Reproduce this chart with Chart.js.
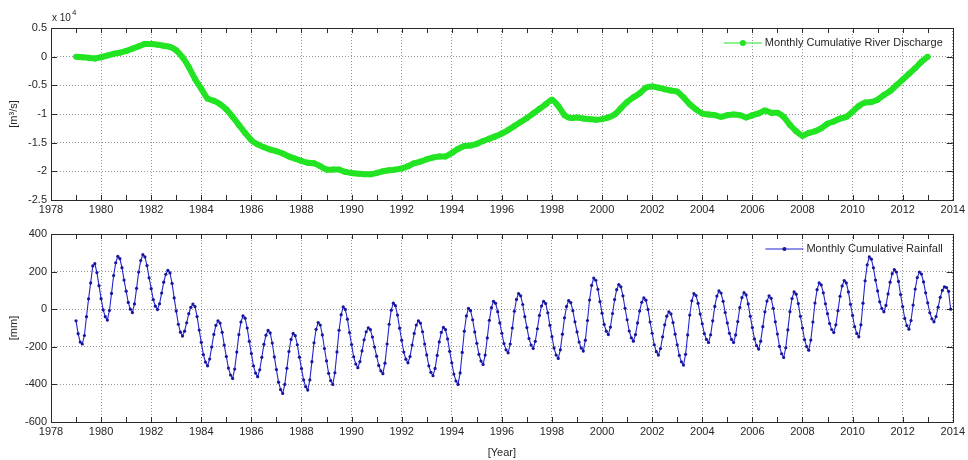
<!DOCTYPE html>
<html>
<head>
<meta charset="utf-8">
<title>Cumulative discharge and rainfall</title>
<script src="https://cdn.jsdelivr.net/npm/chart.js@4.4.1/dist/chart.umd.min.js"></script>
<style>
  html, body { margin: 0; padding: 0; background: #fff; }
  #wrap { position: relative; width: 968px; height: 460px; }
  canvas { position: absolute; left: 0; }
</style>
</head>
<body>
<div id="wrap">
  <canvas id="dischargeChart" width="968" height="220" style="top:0"></canvas>
  <canvas id="rainfallChart" width="968" height="240" style="top:220px"></canvas>
</div>
<script>
// --- datos ---
const yearTicksMin = 1978;
const yearTicksMax = 2014;

// descarga acumulada (x 10^4 m3/s), un valor por trimestre desde 1979.0
const dischargeStart = 1979;
const dischargeStep = 0.25;
const dischargeE4 = [
  0.00, -0.01, -0.02, -0.03,     // 1979
  -0.01, 0.02, 0.05, 0.07,       // 1980
  0.10, 0.14, 0.18, 0.22,        // 1981
  0.22, 0.21, 0.19, 0.17,        // 1982
  0.11, -0.01, -0.18, -0.39,     // 1983
  -0.56, -0.73, -0.77, -0.83,    // 1984
  -0.92, -1.05, -1.19, -1.33,    // 1985
  -1.46, -1.53, -1.58, -1.62,    // 1986
  -1.65, -1.69, -1.74, -1.78,    // 1987
  -1.82, -1.85, -1.86, -1.91,    // 1988
  -1.97, -1.97, -1.97, -2.01,    // 1989
  -2.03, -2.04, -2.05, -2.05,    // 1990
  -2.03, -2.00, -1.98, -1.97,    // 1991
  -1.95, -1.91, -1.86, -1.83,    // 1992
  -1.79, -1.76, -1.74, -1.74,    // 1993
  -1.68, -1.61, -1.56, -1.55,    // 1994
  -1.52, -1.47, -1.43, -1.39,    // 1995
  -1.34, -1.28, -1.21, -1.14,    // 1996
  -1.07, -0.99, -0.91, -0.83,    // 1997
  -0.75, -0.86, -1.02, -1.07,    // 1998
  -1.06, -1.08, -1.09, -1.10,    // 1999
  -1.09, -1.06, -1.01, -0.90,    // 2000
  -0.79, -0.71, -0.64, -0.54,    // 2001
  -0.52, -0.54, -0.57, -0.59,    // 2002
  -0.61, -0.71, -0.83, -0.92,    // 2003
  -0.99, -1.01, -1.02, -1.05,    // 2004
  -1.02, -1.01, -1.02, -1.06,    // 2005
  -1.02, -0.99, -0.94, -0.98,    // 2006
  -0.98, -1.05, -1.19, -1.30,    // 2007
  -1.38, -1.33, -1.30, -1.25,    // 2008
  -1.17, -1.13, -1.08, -1.05,    // 2009
  -0.96, -0.86, -0.80, -0.79,    // 2010
  -0.75, -0.67, -0.60, -0.50,    // 2011
  -0.40, -0.30, -0.20, -0.09,    // 2012
  0.00                            // 2013
];

// lluvia acumulada (mm), un valor por mes desde enero de 1979
const rainfallStart = 1979;
const rainfallMm = [
  -62, -130, -175, -185, -140, -40, 55, 140, 230, 242, 195, 125,           // 1979
  56, -4, -40, -58, -7, 84, 179, 247, 281, 269, 221, 155,                  // 1980
  96, 36, 0, -18, 28, 111, 198, 259, 290, 278, 232, 167,                   // 1981
  109, 51, 16, -2, 29, 86, 144, 186, 207, 193, 137, 60,                    // 1982
  -10, -80, -122, -143, -117, -72, -24, 10, 27, 14, -39, -111,             // 1983
  -176, -242, -281, -301, -265, -201, -134, -86, -62, -74, -123, -191,     // 1984
  -252, -313, -350, -368, -318, -228, -135, -68, -35, -48, -100, -171,     // 1985
  -236, -301, -340, -359, -322, -256, -187, -138, -113, -126, -180, -254,  // 1986
  -321, -388, -428, -448, -400, -314, -225, -161, -129, -141, -189, -255,  // 1987
  -316, -376, -412, -430, -376, -279, -179, -107, -71, -84, -137, -209,    // 1988
  -275, -341, -380, -400, -338, -227, -112, -29, 12, -1, -53, -124,        // 1989
  -188, -253, -292, -311, -279, -222, -163, -120, -99, -109, -148, -201,   // 1990
  -250, -299, -328, -343, -287, -185, -80, -5, 32, 19, -31, -101,          // 1991
  -165, -228, -266, -285, -252, -191, -129, -84, -62, -74, -120, -185,     // 1992
  -243, -301, -336, -354, -315, -246, -174, -123, -97, -109, -158, -224,   // 1993
  -285, -345, -382, -400, -339, -230, -117, -36, 4, -8, -56, -121,         // 1994
  -181, -240, -276, -294, -244, -153, -59, 8, 42, 31, -13, -73,            // 1995
  -128, -183, -216, -232, -185, -100, -11, 52, 83, 71, 25, -40,            // 1996
  -98, -156, -191, -209, -171, -104, -33, 17, 42, 30, -19, -86,            // 1997
  -146, -207, -244, -262, -216, -133, -46, 15, 46, 35, -8, -67,            // 1998
  -121, -175, -207, -223, -165, -60, 49, 127, 166, 154, 106, 40,           // 1999
  -21, -81, -117, -135, -95, -23, 51, 104, 131, 119, 71, 5,                // 2000
  -56, -116, -152, -170, -135, -73, -9, 37, 60, 48, -1, -68,               // 2001
  -128, -189, -226, -244, -209, -147, -83, -37, -14, -25, -71, -133,       // 2002
  -189, -246, -280, -297, -240, -137, -31, 45, 83, 73, 31, -26,            // 2003
  -78, -130, -161, -177, -136, -62, 15, 70, 97, 86, 42, -18,               // 2004
  -73, -128, -161, -177, -137, -66, 9, 62, 88, 76, 28, -38,                // 2005
  -98, -158, -194, -212, -170, -93, -14, 43, 71, 58, 5, -67,               // 2006
  -132, -198, -237, -257, -205, -110, -13, 57, 92, 80, 30, -38,            // 2007
  -100, -162, -199, -218, -164, -68, 33, 104, 140, 129, 87, 29,            // 2008
  -24, -76, -108, -124, -83, -8, 69, 124, 152, 140, 92, 26,                // 2009
  -33, -93, -129, -147, -83, 32, 151, 236, 278, 266, 220, 155,             // 2010
  97, 39, 4, -14, 20, 81, 144, 189, 211, 198, 148, 78,                     // 2011
  14, -49, -87, -106, -60, 22, 107, 168, 198, 187, 145, 87,                // 2012
  34, -19, -51, -67, -39, 11, 63, 100, 119, 115, 95, 0                     // 2013
];

const dischargeLabel = 'Monthly Cumulative River Discharge';
const rainfallLabel = 'Monthly Cumulative Rainfall';

// --- estilo general tipo MATLAB ---
Chart.defaults.font.family = '"Liberation Sans", Arial, Helvetica, sans-serif';
Chart.defaults.font.size = 11;
Chart.defaults.color = '#262626';

const GREEN = '#22e422';
const BLUE = '#2323cf';
const TEXT = '#262626';

// Marco, marcas hacia dentro, leyenda y exponente
const marcoMatlab = {
  id: 'marcoMatlab',
  afterDraw(chart, args, opts) {
    const { ctx, chartArea: a, scales: { x, y } } = chart;
    ctx.save();
    ctx.strokeStyle = '#2a2a2a';
    ctx.lineWidth = 1;
    ctx.strokeRect(Math.round(a.left) + 0.5, Math.round(a.top) + 0.5,
                   Math.round(a.right - a.left), Math.round(a.bottom - a.top));

    ctx.beginPath();
    for (let yr = x.min; yr <= x.max; yr++) {
      const px = Math.round(x.getPixelForValue(yr)) + 0.5;
      ctx.moveTo(px, a.bottom); ctx.lineTo(px, a.bottom - 5);
      ctx.moveTo(px, a.top); ctx.lineTo(px, a.top + 5);
    }
    y.ticks.forEach(t => {
      const py = Math.round(y.getPixelForValue(t.value)) + 0.5;
      ctx.moveTo(a.left, py); ctx.lineTo(a.left + 6, py);
      ctx.moveTo(a.right, py); ctx.lineTo(a.right - 6, py);
    });
    ctx.stroke();

    // leyenda dentro del área, arriba a la derecha
    ctx.font = '11px "Liberation Sans", Arial, sans-serif';
    ctx.fillStyle = TEXT;
    ctx.textBaseline = 'middle';
    ctx.textAlign = 'left';
    const tw = ctx.measureText(opts.text).width;
    const tx = a.right - 10 - tw;
    const ly = a.top + 15;
    ctx.fillText(opts.text, tx, ly);
    const x1 = tx - 3, x0 = x1 - 38;
    ctx.strokeStyle = opts.color;
    ctx.lineWidth = 1.2;
    ctx.beginPath(); ctx.moveTo(x0, ly); ctx.lineTo(x1, ly); ctx.stroke();
    ctx.fillStyle = opts.markerColor || opts.color;
    ctx.beginPath(); ctx.arc((x0 + x1) / 2, ly, opts.markerR, 0, Math.PI * 2); ctx.fill();

    // factor de escala "x 10^4"
    if (opts.exponent) {
      ctx.fillStyle = TEXT;
      ctx.font = '10px "Liberation Sans", Arial, sans-serif';
      ctx.textAlign = 'left';
      ctx.fillText('x 10', a.left + 1, a.top - 10);
      const w = ctx.measureText('x 10').width;
      ctx.font = '8px "Liberation Sans", Arial, sans-serif';
      ctx.fillText(String(opts.exponent), a.left + 2 + w, a.top - 15);
    }
    ctx.restore();
  }
};

function ejeX(height, conTitulo) {
  return {
    type: 'linear',
    min: yearTicksMin,
    max: yearTicksMax,
    afterFit: s => { s.height = height; },
    ticks: {
      stepSize: 2, autoSkip: false, maxRotation: 0, padding: 3, color: TEXT,
      callback: v => String(v)
    },
    grid: { color: 'rgba(0,0,0,0.4)', lineWidth: 1, drawTicks: false },
    border: { display: false, dash: [1, 2] },
    title: { display: conTitulo, text: '[Year]', color: TEXT, font: { size: 11 }, padding: { top: 0, bottom: 0 } }
  };
}

function ejeY(min, max, step, titulo) {
  return {
    min: min, max: max,
    afterFit: s => { s.width = 51; },
    ticks: { stepSize: step, padding: 4, color: TEXT, callback: v => String(v) },
    grid: { color: 'rgba(0,0,0,0.4)', lineWidth: 1, drawTicks: false },
    border: { display: false, dash: [1, 2] },
    title: { display: true, text: titulo, color: TEXT, font: { size: 11 }, padding: { top: 7, bottom: 0 } }
  };
}

// --- gráfico superior: descarga ---
new Chart(document.getElementById('dischargeChart'), {
  type: 'line',
  data: {
    datasets: [{
      label: dischargeLabel,
      data: dischargeE4.map((v, i) => ({ x: dischargeStart + i * dischargeStep, y: v })),
      borderColor: GREEN,
      backgroundColor: GREEN,
      borderWidth: 6,
      pointRadius: 3,
      pointBorderWidth: 0,
      pointBackgroundColor: GREEN,
      tension: 0.2
    }]
  },
  options: {
    responsive: false,
    animation: false,
    events: [],
    layout: { padding: { top: 28, right: 12, left: 0, bottom: 0 } },
    scales: {
      x: ejeX(20, false),
      y: ejeY(-2.5, 0.5, 0.5, '[m³/s]')
    },
    plugins: {
      legend: { display: false },
      tooltip: { enabled: false },
      marcoMatlab: { text: dischargeLabel, color: GREEN, markerR: 3, exponent: 4 }
    }
  },
  plugins: [marcoMatlab]
});

// --- gráfico inferior: lluvia ---
new Chart(document.getElementById('rainfallChart'), {
  type: 'line',
  data: {
    datasets: [{
      label: rainfallLabel,
      data: rainfallMm.map((v, i) => ({ x: rainfallStart + i / 12, y: v })),
      borderColor: BLUE,
      backgroundColor: '#1616a0',
      borderWidth: 1.1,
      pointRadius: 1.6,
      pointBorderWidth: 0,
      pointBackgroundColor: '#1616a0',
      tension: 0
    }]
  },
  options: {
    responsive: false,
    animation: false,
    events: [],
    layout: { padding: { top: 14, right: 12, left: 0, bottom: 0 } },
    scales: {
      x: ejeX(38, true),
      y: ejeY(-600, 400, 200, '[mm]')
    },
    plugins: {
      legend: { display: false },
      tooltip: { enabled: false },
      marcoMatlab: { text: rainfallLabel, color: BLUE, markerColor: '#1616a0', markerR: 2 }
    }
  },
  plugins: [marcoMatlab]
});
</script>
</body>
</html>
